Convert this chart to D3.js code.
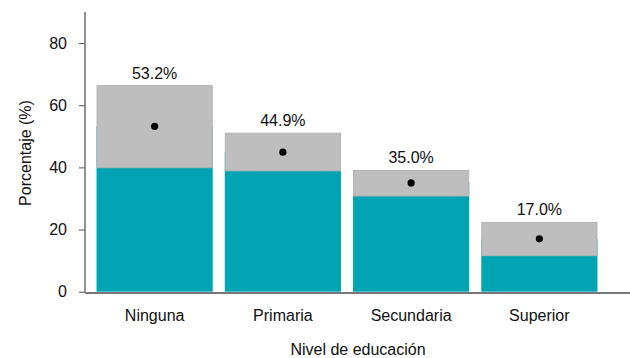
<!DOCTYPE html>
<html>
<head>
<meta charset="utf-8">
<script src="https://cdn.jsdelivr.net/npm/d3@7"></script>
<style>
  body { margin: 0; background: #fff; }
  svg { display: block; font-family: 'Liberation Sans', Arial, sans-serif; }
</style>
</head>
<body>
<div id="chart"></div>
<script>
const width = 630;
const height = 358;

// nivel de educación, estimación y intervalo de confianza
const categories = ['Ninguna', 'Primaria', 'Secundaria', 'Superior'];
const estimates = [53.2, 44.9, 35.0, 17.0];
const lower = [39.9, 38.9, 30.8, 11.6];
const upper = [66.3, 51.0, 39.0, 22.3];
const yTicks = [0, 20, 40, 60, 80];

const margin = { top: 12, right: 0, bottom: 66, left: 85 };

const data = categories.map((c, i) => ({
  name: c, est: estimates[i], lo: lower[i], hi: upper[i]
}));

const svg = d3.select('#chart')
  .append('svg')
  .attr('width', width)
  .attr('height', height);

const x = d3.scaleBand()
  .domain(categories)
  .range([margin.left, 609])
  .paddingInner(0.094)
  .paddingOuter(0.09);

const y = d3.scaleLinear()
  .domain([0, 90])
  .range([291.7, margin.top]);

// barras hasta la estimación
svg.append('g')
  .selectAll('rect')
  .data(data)
  .join('rect')
  .attr('x', d => x(d.name))
  .attr('width', x.bandwidth())
  .attr('y', d => y(d.est))
  .attr('height', d => y(0) - y(d.est))
  .attr('fill', '#00a4b3');

// intervalo de confianza
svg.append('g')
  .selectAll('rect')
  .data(data)
  .join('rect')
  .attr('x', d => x(d.name) + 0.5)
  .attr('width', x.bandwidth() - 1)
  .attr('y', d => y(d.hi))
  .attr('height', d => y(d.lo) - y(d.hi))
  .attr('fill', '#bebebe')
  .attr('stroke', '#b4b4b4')
  .attr('stroke-width', 1);

// punto de estimación
svg.append('g')
  .selectAll('circle')
  .data(data)
  .join('circle')
  .attr('cx', d => x(d.name) + x.bandwidth() / 2)
  .attr('cy', d => y(d.est))
  .attr('r', 3.6)
  .attr('fill', '#000');

// etiquetas de porcentaje
svg.append('g')
  .selectAll('text')
  .data(data)
  .join('text')
  .attr('x', d => x(d.name) + x.bandwidth() / 2)
  .attr('y', d => y(d.hi) - 7)
  .attr('text-anchor', 'middle')
  .attr('font-size', 16)
  .attr('fill', '#111')
  .text(d => d.est.toFixed(1) + '%');

// eje y
const yAxis = svg.append('g')
  .attr('transform', `translate(${margin.left},0)`)
  .call(d3.axisLeft(y).tickValues(yTicks).tickSize(6).tickPadding(12).tickSizeOuter(0));
yAxis.select('.domain').remove();
yAxis.append('line')
  .attr('x1', 0).attr('x2', 0)
  .attr('y1', margin.top).attr('y2', 293)
  .attr('stroke', '#6e6e6e')
  .attr('stroke-width', 1.5);
yAxis.selectAll('.tick line').attr('stroke', '#555');
yAxis.selectAll('.tick text')
  .attr('font-size', 16)
  .attr('font-family', "'Liberation Sans', Arial, sans-serif")
  .attr('fill', '#111');

// eje x
svg.append('line')
  .attr('x1', margin.left).attr('x2', width)
  .attr('y1', 293).attr('y2', 293)
  .attr('stroke', '#777')
  .attr('stroke-width', 2);

svg.append('g')
  .selectAll('text')
  .data(categories)
  .join('text')
  .attr('x', d => x(d) + x.bandwidth() / 2)
  .attr('y', 321)
  .attr('text-anchor', 'middle')
  .attr('font-size', 16)
  .attr('fill', '#111')
  .text(d => d);

svg.append('text')
  .attr('x', 358)
  .attr('y', 355)
  .attr('text-anchor', 'middle')
  .attr('font-size', 16)
  .attr('fill', '#111')
  .text('Nivel de educación');

svg.append('text')
  .attr('transform', `translate(31,153) rotate(-90)`)
  .attr('text-anchor', 'middle')
  .attr('font-size', 16)
  .attr('fill', '#111')
  .text('Porcentaje (%)');
</script>
</body>
</html>
